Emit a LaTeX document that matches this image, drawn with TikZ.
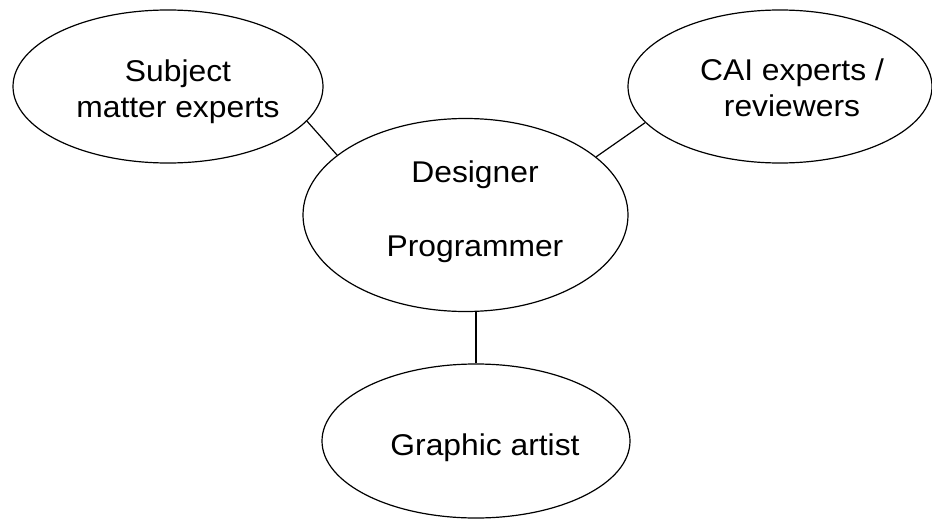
\documentclass[tikz,border=0pt]{standalone}
\usepackage{fontspec}
\setmainfont[FakeStretch=1.06]{Liberation Sans}
\usetikzlibrary{shapes.geometric}
\begin{document}
\begin{tikzpicture}[x=1pt,y=-1pt,
  oval/.style={draw=black, line width=1.2pt, ellipse, inner sep=0pt},
  txt/.style={align=center, font=\fontsize{30}{36}\selectfont, inner sep=0pt},
  link/.style={draw=black, line width=1.2pt}]
\useasboundingbox (0,0) rectangle (932,519);
\node[oval, minimum width=310pt, minimum height=153pt] (sme) at (168,86.5) {};
\node[oval, minimum width=304pt, minimum height=153pt] (cai) at (780,86.5) {};
\node[oval, minimum width=325pt, minimum height=193pt] (des) at (465.5,215) {};
\node[oval, minimum width=308pt, minimum height=154pt] (ga) at (476,441) {};
\node[txt] (smet) at (178,91.5) {Subject\\matter experts};
\node[txt] (cait) at (792,88) {CAI experts /\\reviewers};
\node[txt] (dest) at (475,212) {Designer\\[38pt]Programmer};
\node[txt, anchor=base] (gat) at (485,455) {Graphic artist};
\draw[link] (sme.-14) -- (des.155);
\draw[link] (cai.-165) -- (des.24.4);
\draw[link] (ga.north) -- (ga.north |- des.south);
\end{tikzpicture}
\end{document}
